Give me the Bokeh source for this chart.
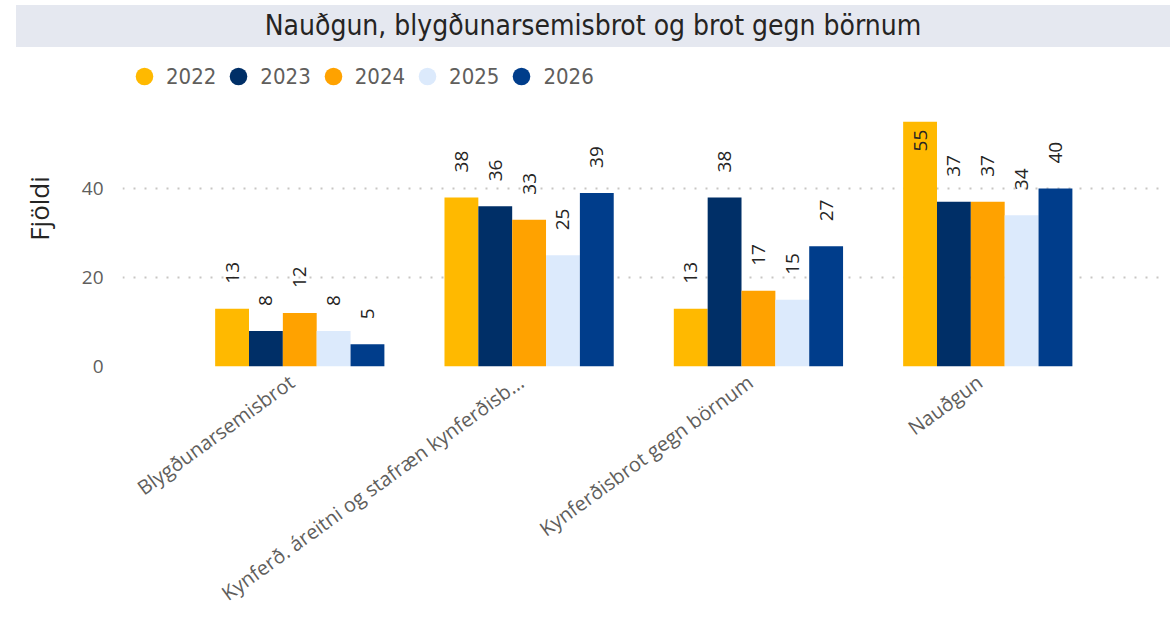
import math
from bokeh.plotting import figure
from bokeh.models import (Range1d, Legend, LegendItem, FixedTicker,
                          ColumnDataSource, Div)
from bokeh.layouts import column
from bokeh.transform import dodge
from bokeh.embed import file_html
from bokeh.resources import INLINE
from bokeh.core.properties import value

# ---------------- data ----------------
title_text = "Nauðgun, blygðunarsemisbrot og brot gegn börnum"
categories = ["Blygðunarsemisbrot",
              "Kynferð. áreitni og stafræn kynferðisb...",
              "Kynferðisbrot gegn börnum",
              "Nauðgun"]
years = ["2022", "2023", "2024", "2025", "2026"]
v2022 = [13, 38, 13, 55]
v2023 = [8, 36, 38, 37]
v2024 = [12, 33, 17, 37]
v2025 = [8, 25, 15, 34]
v2026 = [5, 39, 27, 40]
series = [v2022, v2023, v2024, v2025, v2026]
colors = ["#FFB900", "#002F67", "#FFA200", "#DCEAFC", "#003D8B"]
y_ticks = [0, 20, 40]

# ---------------- style ----------------
FONT = "Open Sans"
TFONT = "DejaVu Sans Condensed"
band = "#E5E8F0"
bw = 0.1476          # bar width in category units
shift = 0.035        # bars sit slightly right of the label anchor
px_per_unit = 4.45   # vertical scale (pixels per count)
frame_h = 316
y_max = frame_h / px_per_unit
idx = list(range(len(categories)))

title_div = Div(text=title_text, width=1154, height=42, margin=(5, 0, 0, 16),
                styles={"background-color": band, "font-family": TFONT,
                        "font-size": "28px", "color": "#252423",
                        "text-align": "center", "line-height": "42px",
                        "white-space": "nowrap"})

p = figure(x_range=Range1d(shift - 0.773, len(categories) - 1 + shift + 0.775),
           y_range=Range1d(0, y_max), frame_width=1043, frame_height=frame_h,
           output_backend="svg", toolbar_location=None,
           min_border_left=122, min_border_right=5, min_border_top=3,
           min_border_bottom=0)

items = []
for i, (yr, vals, col) in enumerate(zip(years, series, colors)):
    off = (i - 2) * bw + shift
    src = ColumnDataSource(dict(x=idx, val=vals))
    p.vbar(x=dodge("x", off), top="val", width=bw,
           source=src, fill_color=col, line_color=None)
    dots = p.scatter(x=dodge("x", off), y="val", source=src,
                     size=0, fill_color=col, line_color=None, visible=False)
    items.append(LegendItem(label=yr, renderers=[dots]))

    lim = 46
    s_out = ColumnDataSource(dict(
        x=[c for c, v in zip(idx, vals) if v <= lim],
        val=[v for v in vals if v <= lim],
        lbl=[str(v) for v in vals if v <= lim]))
    s_in = ColumnDataSource(dict(
        x=[c for c, v in zip(idx, vals) if v > lim],
        val=[v for v in vals if v > lim],
        lbl=[str(v) for v in vals if v > lim]))
    p.text(x=dodge("x", off), y="val", text="lbl", source=s_out,
           angle=math.pi / 2, text_align="left", text_baseline="middle",
           y_offset=-25, text_font=value(FONT), text_font_size="19px",
           text_color="#252423")
    p.text(x=dodge("x", off), y="val", text="lbl", source=s_in,
           angle=math.pi / 2, text_align="right", text_baseline="middle",
           y_offset=8, text_font=value(FONT), text_font_size="19px",
           text_color="#252423")

legend = Legend(items=items, orientation="horizontal",
                location=(0, frame_h - 4 - 44),
                glyph_width=44, glyph_height=44, label_standoff=0, spacing=0,
                padding=0, margin=0, border_line_color=None,
                background_fill_alpha=0, label_text_font=TFONT,
                label_text_font_size="22px", label_text_color="#605E5C")
p.add_layout(legend, "center")

# axes
p.xaxis.ticker = FixedTicker(ticks=idx)
p.xaxis.major_label_overrides = {i: c for i, c in zip(idx, categories)}
p.yaxis.ticker = FixedTicker(ticks=y_ticks)
p.yaxis.axis_label = "Fjöldi"
p.yaxis.axis_label_text_font = FONT
p.yaxis.axis_label_text_font_size = "26px"
p.yaxis.axis_label_text_font_style = "normal"
p.yaxis.axis_label_text_color = "#252423"
p.yaxis.axis_label_standoff = 22
p.yaxis.major_label_text_font = FONT
p.yaxis.major_label_text_font_size = "19px"
p.yaxis.major_label_text_color = "#605E5C"
p.yaxis.major_label_standoff = 19
p.axis.axis_line_color = None
p.axis.major_tick_line_color = None
p.axis.minor_tick_line_color = None
p.axis.major_tick_out = 0
p.axis.major_tick_in = 0

p.xaxis.major_label_orientation = math.radians(36)
p.xaxis.major_label_text_font = FONT
p.xaxis.major_label_text_font_size = "20px"
p.xaxis.major_label_text_color = "#605E5C"
p.xaxis.major_label_standoff = 13

p.xgrid.grid_line_color = None
p.ygrid.grid_line_color = "#C8C6C4"
p.ygrid.grid_line_width = 2
p.ygrid.grid_line_dash = "2 9"
p.outline_line_color = None
p.background_fill_color = "white"
p.border_fill_color = "white"

layout = column(title_div, p, spacing=0)
open("out.html", "w").write(file_html(layout, INLINE))
